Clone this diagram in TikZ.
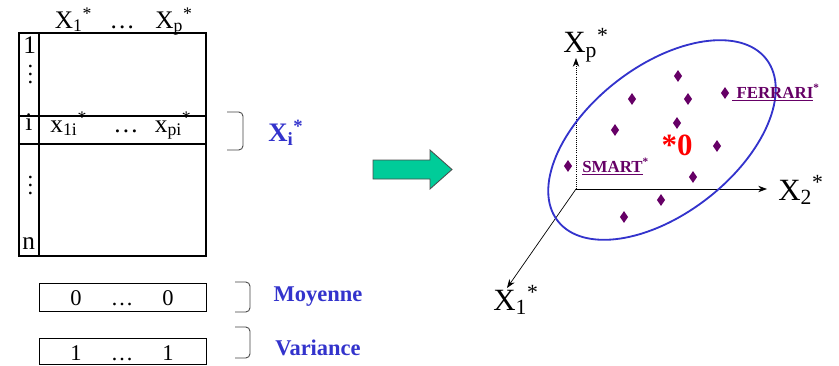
\documentclass[tikz,border=0pt]{standalone}
\usepackage{fontspec}
\setmainfont{Liberation Serif}
\usetikzlibrary{arrows.meta,shapes.geometric}
\definecolor{acpblue}{HTML}{3333CC}
\definecolor{acppurple}{HTML}{660066}
\definecolor{acpgreen}{HTML}{00CC99}
\definecolor{acpred}{HTML}{FF0000}
\newcommand{\coldots}{\vbox{\baselineskip=5.8pt\lineskiplimit=0pt
  \hbox{.}\hbox{.}\hbox{.}}}

\begin{document}
\begin{tikzpicture}[
  cell/.style={font=\fontsize{18}{20}\selectfont, anchor=base, inner sep=0pt},
  box/.style={draw, line width=1.2pt, anchor=north west, inner sep=0pt},
  brk/.style={draw=black!75, line width=0.6pt, rounded corners=3pt},
  lbl/.style={font=\fontsize{16}{18}\selectfont\bfseries, text=acpblue,
              anchor=base, inner sep=0pt},
  pt/.style={diamond, fill=acppurple, aspect=0.7, inner sep=0pt,
             minimum width=0.21cm, minimum height=0.3cm},
  ax/.style={-{Stealth[length=2.2mm, width=1.6mm]}, line width=0.5pt},
  axl/.style={font=\fontsize{22}{24}\selectfont, anchor=base west, inner sep=0pt},
  car/.style={font=\fontsize{12}{14}\selectfont\bfseries, text=acppurple,
              anchor=base west, inner sep=0pt}]

\useasboundingbox (0,0) rectangle (20.975,-9.15);

% ---- data table ------------------------------------------------------
\node[box, minimum width=4.675cm, minimum height=5.575cm] (tab) at (0.45,-0.8) {};
\draw[line width=1.2pt] (0.975,-0.8) -- (0.975,-6.375);
\draw[line width=1.2pt] (0.45,-2.9) -- (5.125,-2.9);
\draw[line width=1.2pt] (0.45,-3.6) -- (5.125,-3.6);

\node[cell] (h1) at (1.84,-0.7) {X\textsubscript{1}\textsuperscript{*}};
\node[cell] (hd) at (3.06,-0.7) {\dots};
\node[cell] (hp) at (4.35,-0.7) {X\textsubscript{p}\textsuperscript{*}};

\node[cell] (r1) at (0.74,-1.33) {1};
\node[cell, font=\fontsize{16}{18}\selectfont] (v1) at (0.76,-2.09) {\coldots};
\node[cell] (ri) at (0.72,-3.27) {i};
\node[cell] (x1) at (1.72,-3.3) {x\textsubscript{1i}\textsuperscript{*}};
\node[cell] (xd) at (3.15,-3.3) {\dots};
\node[cell] (xp) at (4.33,-3.3) {x\textsubscript{pi}\textsuperscript{*}};
\node[cell, font=\fontsize{16}{18}\selectfont] (v2) at (0.76,-4.86) {\coldots};
\node[cell] (rn) at (0.72,-6.225) {n};

\draw[brk] (5.675,-2.8) -| (6.075,-3.75) -- (5.675,-3.75);
\node[lbl, font=\fontsize{19}{21}\selectfont\bfseries, anchor=base west]
     (xi) at (6.7,-3.525) {X\textsubscript{i}\textsuperscript{*}};

% ---- mean and variance rows -----------------------------------------
\node[box, line width=1pt, minimum width=4.175cm, minimum height=0.7cm]
     (moy) at (0.975,-7.075) {};
\node[cell, font=\fontsize{16}{18}\selectfont] at (1.9,-7.625) {0};
\node[cell, font=\fontsize{16}{18}\selectfont] at (3.05,-7.625) {\dots};
\node[cell, font=\fontsize{16}{18}\selectfont] at (4.2,-7.625) {0};
\draw[brk] (5.875,-7.05) -| (6.25,-7.8) -- (5.875,-7.8);
\node[lbl] (lmoy) at (7.95,-7.525) {Moyenne};

\node[box, line width=1pt, minimum width=4.175cm, minimum height=0.65cm]
     (var) at (0.975,-8.45) {};
\node[cell, font=\fontsize{16}{18}\selectfont] at (1.9,-9.0) {1};
\node[cell, font=\fontsize{16}{18}\selectfont] at (3.05,-9.0) {\dots};
\node[cell, font=\fontsize{16}{18}\selectfont] at (4.2,-9.0) {1};
\draw[brk] (5.875,-8.175) -| (6.25,-8.95) -- (5.875,-8.95);
\node[lbl] (lvar) at (7.95,-8.875) {Variance};

% ---- transition ------------------------------------------------------
\draw[fill=acpgreen, draw=black!70, line width=0.6pt]
  (9.325,-4.0) -- (10.75,-4.0) -- (10.75,-3.75) -- (11.3,-4.2375)
  -- (10.75,-4.725) -- (10.75,-4.475) -- (9.325,-4.475) -- cycle;

% ---- individuals space -----------------------------------------------
\coordinate (O) at (14.4,-4.725);
\coordinate (e2) at (19.175,-4.725);
\coordinate (ep) at (14.4,-1.45);
\coordinate (e1) at (12.675,-7.2);
\draw[ax] (O) -- (e2);
\draw[ax, densely dotted] (O) -- (ep);
\draw[ax] (O) -- (e1);
\node[axl] (l2) at (19.45,-5.0) {X\textsubscript{2}\textsuperscript{*}};
\node[axl] (lp) at (14.075,-1.325) {X\textsubscript{p}\textsuperscript{*}};
\node[axl] (l1) at (12.325,-7.75) {X\textsubscript{1}\textsuperscript{*}};

\draw[acpblue, line width=1.3pt, rotate around={37.8:(16.55,-3.5)}]
  (16.55,-3.5) ellipse [x radius=3.3cm, y radius=1.85cm];

\foreach \x/\y [count=\k] in {16.95/-1.9, 15.8/-2.475, 17.2/-2.475,
    18.125/-2.325, 16.925/-3.075, 15.375/-3.25, 17.925/-3.65, 14.2/-4.15,
    17.325/-4.425, 16.525/-5.0, 15.6/-5.425}
  \node[pt] (p\k) at (\x,\y) {};

\node[car] (ferrari) at (18.3,-2.45) {\underline{\ FERRARI}\textsuperscript{*}};
\node[car] (smart) at (14.55,-4.3) {\underline{SMART}\textsuperscript{*}};
\node[font=\fontsize{22}{24}\selectfont\bfseries, text=acpred, anchor=base,
      inner sep=0pt] (g) at (16.925,-3.875) {*0};
\end{tikzpicture}
\end{document}
